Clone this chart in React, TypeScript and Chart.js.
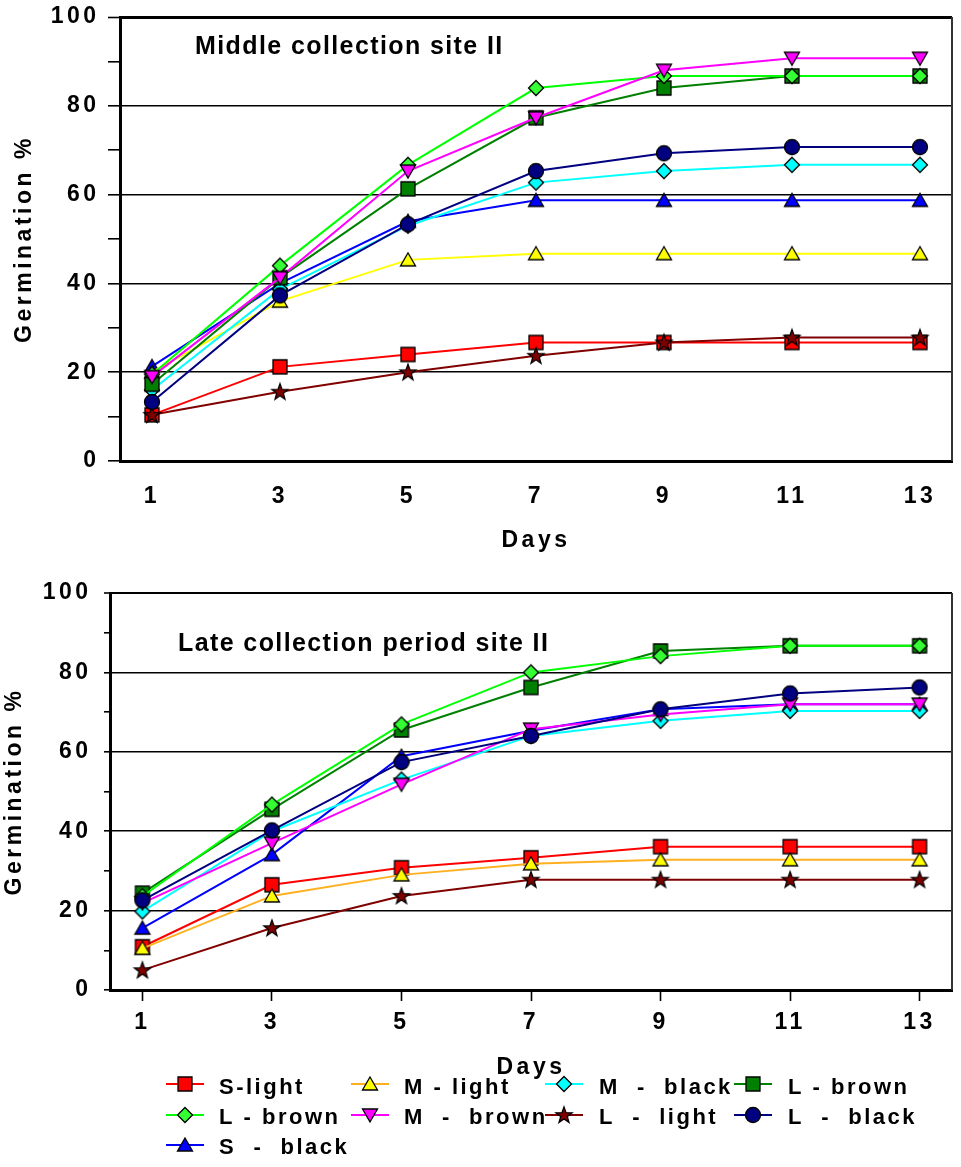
import React, { useEffect, useRef } from "react";
import { Chart, registerables } from "chart.js";

Chart.register(...registerables);

// ---------------- data ----------------
const days = [1, 3, 5, 7, 9, 11, 13];
const seriesNames = [
  "S-light",
  "M - light",
  "M  -  black",
  "L - brown",
  "L - brown",
  "M  -  brown",
  "L  -  light",
  "L  -  black",
  "S  -  black",
];

// Middle collection site II
const middleSLight = [10.4, 21.2, 24.0, 26.7, 26.7, 26.7, 26.7];
const middleMLight = [20.0, 36.0, 45.3, 46.7, 46.7, 46.7, 46.7];
const middleMBlack = [16.0, 38.7, 53.0, 62.7, 65.3, 66.7, 66.7];
const middleLBrownSq = [17.3, 41.3, 61.3, 77.3, 84.0, 86.7, 86.7];
const middleLBrownDia = [19.5, 44.0, 66.7, 84.0, 86.7, 86.7, 86.7];
const middleMBrown = [19.0, 41.3, 65.3, 77.3, 88.0, 90.7, 90.7];
const middleLLight = [10.4, 15.6, 20.0, 23.7, 26.7, 27.8, 27.8];
const middleLBlack = [13.3, 37.3, 53.3, 65.3, 69.3, 70.7, 70.7];
const middleSBlack = [21.3, 40.0, 54.0, 58.7, 58.7, 58.7, 58.7];

// Late collection period site II
const lateSLight = [10.9, 26.5, 30.8, 33.3, 36.1, 36.1, 36.1];
const lateMLight = [10.5, 23.7, 29.0, 31.8, 32.8, 32.8, 32.8];
const lateMBlack = [19.8, 40.0, 53.0, 64.0, 67.8, 70.3, 70.3];
const lateLBrownSq = [24.4, 45.5, 65.5, 76.2, 85.4, 86.7, 86.7];
const lateLBrownDia = [23.6, 46.7, 66.9, 80.0, 84.1, 86.7, 86.7];
const lateMBrown = [21.9, 37.0, 51.8, 65.7, 69.4, 72.0, 72.0];
const lateLLight = [5.0, 15.6, 23.7, 27.8, 27.8, 27.8, 27.8];
const lateLBlack = [22.6, 40.2, 57.4, 64.0, 70.7, 74.7, 76.2];
const lateSBlack = [15.6, 34.1, 58.9, 65.3, 70.7, 72.0, 72.0];

const middleSeries = [
  middleSLight, middleMLight, middleMBlack, middleLBrownSq, middleLBrownDia,
  middleMBrown, middleLLight, middleLBlack, middleSBlack,
];
const lateSeries = [
  lateSLight, lateMLight, lateMBlack, lateLBrownSq, lateLBrownDia,
  lateMBrown, lateLLight, lateLBlack, lateSBlack,
];

// ---------------- styles ----------------
const FONT = "'Liberation Sans', Arial, Helvetica, sans-serif";
const seriesStyles = [
  { line: "#FF0000", lineLate: "#FF0000", fill: "#FF0000", shape: "square" },
  { line: "#FFFF00", lineLate: "#FFB020", fill: "#FFFF00", shape: "triangle" },
  { line: "#00FFFF", lineLate: "#00FFFF", fill: "#00FFFF", shape: "diamond" },
  { line: "#008000", lineLate: "#008000", fill: "#008000", shape: "square" },
  { line: "#00FF00", lineLate: "#00FF00", fill: "#33FF33", shape: "diamond" },
  { line: "#FF00FF", lineLate: "#FF00FF", fill: "#FF00FF", shape: "dtriangle" },
  { line: "#800000", lineLate: "#800000", fill: "#800000", shape: "star" },
  { line: "#000080", lineLate: "#000080", fill: "#000080", shape: "circle" },
  { line: "#0000FF", lineLate: "#0000FF", fill: "#0000FF", shape: "triangle" },
];

const LEG_LINE_X = [166, 351, 545, 734];
const LEG_TEXT_X = [219, 404, 599, 788];
const LEG_ROW_Y = [1084, 1115, 1145];
const LEG_TEXT_Y = [1088, 1118, 1148];

function drawMarker(ctx: CanvasRenderingContext2D, shape: string, fill: string, cx: number, cy: number) {
  ctx.save();
  ctx.fillStyle = fill;
  ctx.strokeStyle = "#000";
  ctx.lineWidth = 1.3;
  ctx.lineJoin = "miter";
  ctx.beginPath();
  if (shape === "square") {
    ctx.rect(cx - 7, cy - 7, 14, 14);
  } else if (shape === "diamond") {
    ctx.moveTo(cx, cy - 7.5);
    ctx.lineTo(cx + 7.5, cy);
    ctx.lineTo(cx, cy + 7.5);
    ctx.lineTo(cx - 7.5, cy);
    ctx.closePath();
  } else if (shape === "triangle") {
    ctx.moveTo(cx, cy - 7);
    ctx.lineTo(cx + 7.5, cy + 6);
    ctx.lineTo(cx - 7.5, cy + 6);
    ctx.closePath();
  } else if (shape === "dtriangle") {
    ctx.moveTo(cx, cy + 7);
    ctx.lineTo(cx + 7.5, cy - 6);
    ctx.lineTo(cx - 7.5, cy - 6);
    ctx.closePath();
  } else if (shape === "circle") {
    ctx.arc(cx, cy, 7.5, 0, Math.PI * 2);
  } else if (shape === "star") {
    for (let k = 0; k < 10; k++) {
      const r = k % 2 === 0 ? 8.5 : 3.5;
      const a = -Math.PI / 2 + (k * Math.PI) / 5;
      const px = cx + r * Math.cos(a);
      const py = cy + 0.5 + r * Math.sin(a);
      if (k === 0) ctx.moveTo(px, py);
      else ctx.lineTo(px, py);
    }
    ctx.closePath();
  }
  ctx.fill();
  ctx.stroke();
  ctx.restore();
}

function makeMarker(shape: string, fill: string) {
  const c = document.createElement("canvas");
  c.width = 22;
  c.height = 22;
  const ctx = c.getContext("2d") as CanvasRenderingContext2D;
  drawMarker(ctx, shape, fill, 11, 11);
  return c;
}

// ---------------- plugins ----------------
const spacingPlugin = {
  id: "spacing",
  beforeDraw(chart: any) {
    chart.ctx.letterSpacing = "3.5px";
  },
};

const plotTitlePlugin = {
  id: "plotTitle",
  beforeDatasetsDraw(chart: any, _args: any, opts: any) {
    const ctx = chart.ctx;
    ctx.save();
    ctx.letterSpacing = "1.4px";
    ctx.font = `bold 25px ${FONT}`;
    ctx.fillStyle = "#000";
    ctx.textAlign = "left";
    ctx.textBaseline = "middle";
    ctx.fillText(opts.text, opts.x, opts.y);
    // right frame line
    const a = chart.chartArea;
    ctx.strokeStyle = "#333";
    ctx.lineWidth = 2;
    ctx.beginPath();
    ctx.moveTo(a.right, a.top);
    ctx.lineTo(a.right, a.bottom);
    ctx.stroke();
    ctx.restore();
  },
};

const legendPlugin = {
  id: "customLegend",
  afterDraw(chart: any, _args: any, opts: any) {
    if (!opts || !opts.show) return;
    const ctx = chart.ctx;
    const off = opts.offsetY;
    ctx.save();
    ctx.letterSpacing = "2.5px";
    ctx.font = `bold 22px ${FONT}`;
    ctx.textAlign = "left";
    ctx.textBaseline = "middle";
    chart.data.datasets.forEach((ds: any, i: number) => {
      const col = i % 4;
      const row = Math.floor(i / 4);
      const lx = LEG_LINE_X[col];
      const ly = LEG_ROW_Y[row] - off;
      ctx.strokeStyle = ds.borderColor;
      ctx.lineWidth = 2;
      ctx.beginPath();
      ctx.moveTo(lx, ly);
      ctx.lineTo(lx + 38, ly);
      ctx.stroke();
      const img = ds.pointStyle as HTMLCanvasElement;
      ctx.drawImage(img, lx + 19 - img.width / 2, ly - img.height / 2);
      ctx.fillStyle = "#000";
      ctx.fillText(ds.label, LEG_TEXT_X[col], LEG_TEXT_Y[row] - off);
    });
    ctx.restore();
  },
};

// ---------------- config ----------------
function buildConfig(p: any) {
  const tickFont = { family: FONT, size: 23, weight: "bold" as const };
  const datasets = p.series.map((vals: number[], i: number) => {
    const st = seriesStyles[i];
    return {
      label: seriesNames[i],
      data: days.map((d, j) => ({ x: d, y: vals[j] })),
      borderColor: p.late ? st.lineLate : st.line,
      backgroundColor: st.fill,
      borderWidth: 2,
      pointStyle: makeMarker(st.shape, st.fill),
      pointRadius: 7,
      pointHoverRadius: 7,
      fill: false,
      tension: 0,
      order: i === 8 ? 20 : 9 - i,
    };
  });
  return {
    type: "line" as const,
    data: { datasets },
    plugins: [spacingPlugin, plotTitlePlugin, legendPlugin],
    options: {
      animation: false,
      responsive: false,
      devicePixelRatio: 1,
      events: [],
      layout: { padding: p.padding },
      plugins: {
        legend: { display: false },
        tooltip: { enabled: false },
        plotTitle: { text: p.title, x: p.titleX, y: p.titleY },
        customLegend: { show: p.legend, offsetY: p.offsetY },
      },
      scales: {
        x: {
          type: "linear",
          min: 0.5,
          max: 13.5,
          afterBuildTicks: (s: any) => {
            s.ticks = days.map((v) => ({ value: v }));
          },
          afterFit: (s: any) => {
            s.height = p.xHeight;
            s.paddingLeft = 0;
            s.paddingRight = 0;
          },
          ticks: {
            autoSkip: false,
            maxRotation: 0,
            padding: p.xTickPad,
            color: "#000",
            font: tickFont,
            callback: (v: any) => String(v),
          },
          grid: {
            display: true,
            drawOnChartArea: false,
            drawTicks: p.xTickLen > 0,
            tickLength: p.xTickLen,
            tickColor: "#000",
            tickWidth: 1.6,
            color: "#000",
          },
          border: { display: true, color: "#000", width: 3 },
          title: {
            display: true,
            text: "Days",
            color: "#000",
            font: { family: FONT, size: 23, weight: "bold" },
            padding: { top: 0, bottom: p.xTitlePad },
          },
        },
        y: {
          type: "linear",
          min: 0,
          max: 100,
          afterFit: (s: any) => {
            s.width = p.yWidth;
            s.paddingTop = 0;
            s.paddingBottom = 0;
          },
          ticks: {
            stepSize: 10,
            autoSkip: false,
            padding: p.yTickPad,
            color: "#000",
            font: tickFont,
            callback: (v: any) => (Number(v) % 20 === 0 ? String(v) : ""),
          },
          grid: {
            color: (c: any) => (c.tick && c.tick.value % 20 === 0 ? "#000" : "rgba(0,0,0,0)"),
            lineWidth: (c: any) => (c.tick && c.tick.value === 100 ? p.topLineW : 1.6),
            tickColor: "#000",
            tickWidth: 1.6,
            tickLength: p.yTickLen,
            drawTicks: true,
          },
          border: { display: true, color: "#000", width: 3 },
          title: {
            display: true,
            text: "Germination %",
            color: "#000",
            font: { family: FONT, size: 23, weight: "bold" },
            padding: { top: p.yTitlePad, bottom: 0 },
          },
        },
      },
    },
  };
}

const TOP_H = 565;
const BOT_H = 602;

export default function App() {
  const topRef = useRef<HTMLCanvasElement>(null);
  const botRef = useRef<HTMLCanvasElement>(null);

  useEffect(() => {
    const c1 = new Chart(
      topRef.current as HTMLCanvasElement,
      buildConfig({
        series: middleSeries,
        late: false,
        title: "Middle collection site II",
        titleX: 195,
        titleY: 47,
        padding: { top: 17, right: 6, left: 0, bottom: 0 },
        yWidth: 120,
        xHeight: TOP_H - 461,
        yTickLen: 12,
        yTickPad: 8.5,
        yTitlePad: 11.2,
        xTickLen: 0,
        xTickPad: 22.2,
        xTitlePad: 10.2,
        topLineW: 3,
        legend: false,
        offsetY: 0,
      }) as any
    );
    const c2 = new Chart(
      botRef.current as HTMLCanvasElement,
      buildConfig({
        series: lateSeries,
        late: true,
        title: "Late collection period site II",
        titleX: 178,
        titleY: 644 - TOP_H,
        padding: { top: 593 - TOP_H, right: 8, left: 0, bottom: 0 },
        yWidth: 110,
        xHeight: BOT_H - (990 - TOP_H),
        yTickLen: 6,
        yTickPad: 12.5,
        yTitlePad: 0.7,
        xTickLen: 11,
        xTickPad: 8.2,
        xTitlePad: 85.2,
        topLineW: 2,
        legend: true,
        offsetY: TOP_H,
      }) as any
    );
    return () => {
      c1.destroy();
      c2.destroy();
    };
  }, []);

  return (
    <div style={{ position: "absolute", left: 0, top: 0, width: 961, height: 1167, background: "#fff" }}>
      <canvas
        ref={topRef}
        width={961}
        height={TOP_H}
        style={{ position: "absolute", left: 0, top: 0, width: 961, height: TOP_H }}
      />
      <canvas
        ref={botRef}
        width={961}
        height={BOT_H}
        style={{ position: "absolute", left: 0, top: TOP_H, width: 961, height: BOT_H }}
      />
    </div>
  );
}
